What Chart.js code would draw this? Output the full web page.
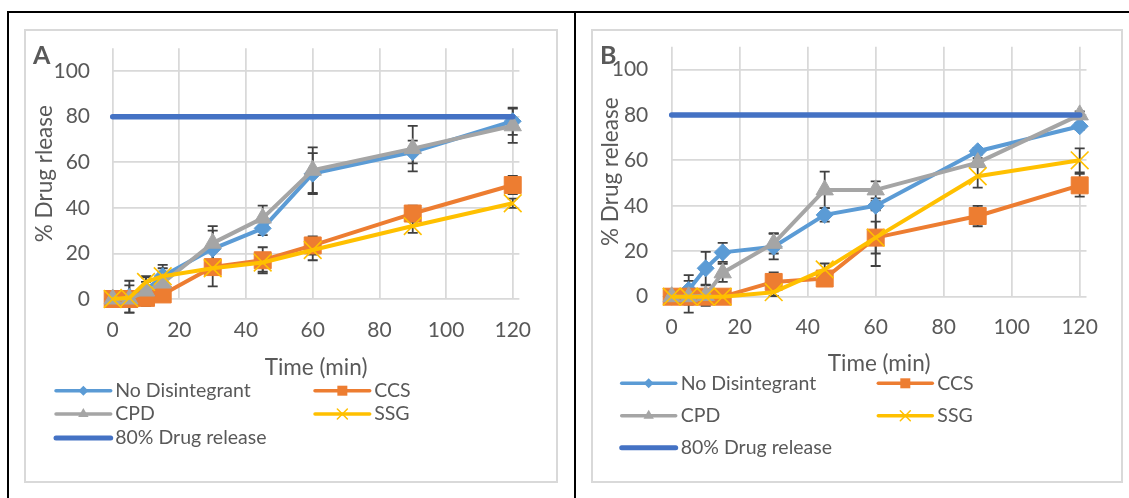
<!DOCTYPE html>
<html><head><meta charset="utf-8">
<script src="https://cdn.jsdelivr.net/npm/chart.js@4.4.0/dist/chart.umd.min.js"></script>
<style>
html,body{margin:0;padding:0;background:#fff;}
body{width:1129px;height:498px;position:relative;overflow:hidden;font-family:Lato,sans-serif;}
.bl{position:absolute;background:#000;}
.frame{position:absolute;border:2px solid #d9d9d9;box-sizing:border-box;}
canvas{position:absolute;}
.letter{position:absolute;font:bold 25px/1 Lato,sans-serif;color:#595959;}
</style></head><body>
<div class="bl" style="left:7px;top:11px;width:1122px;height:2px"></div>
<div class="bl" style="left:7px;top:11px;width:2px;height:487px"></div>
<div class="bl" style="left:574px;top:11px;width:2px;height:487px"></div>
<div class="frame" style="left:24px;top:29px;width:534px;height:454px"></div>
<div class="frame" style="left:591px;top:29px;width:532px;height:454px"></div>
<canvas id="cA" width="532" height="452" style="left:25px;top:30px"></canvas>
<canvas id="cB" width="530" height="452" style="left:592px;top:30px"></canvas>
<div class="letter" style="left:33px;top:42px">A</div>
<div class="letter" style="left:600px;top:42px">B</div>
<script>
// ---- data ----
const timeMin = [0, 5, 10, 15, 30, 45, 60, 90, 120];
const xTicks = [0, 20, 40, 60, 80, 100, 120];
const yTicks = [0, 20, 40, 60, 80, 100];
const seriesNames = ['No Disintegrant', 'CCS', 'CPD', 'SSG', '80% Drug release'];
const targetTime = [0, 120];
const targetRelease = [80, 80];

// Panel A
const A_noDis    = [0, 1, 4, 10, 22, 31, 55, 64.5, 78];
const A_noDisErr = [0, 7, 3.5, 5, 8, 3, 9, 5, 6];
const A_ccs      = [0, 0, 0.5, 2, 14, 17, 23.5, 37.5, 50];
const A_ccsErr   = [0, 0, 1, 2, 2, 5.7, 4, 3.5, 4];
const A_cpd      = [0, 0, 3.5, 7, 24.5, 35.5, 56.5, 66, 76];
const A_cpdErr   = [0, 6, 6.5, 6.5, 7.5, 5.5, 10, 10, 7.5];
const A_ssg      = [0, 0.5, 7.5, 10, 13.5, 16, 21.5, 32, 42];
const A_ssgErr   = [0, 2, 2, 2, 8, 4, 4.5, 3, 2];

// Panel B
const B_noDis    = [0, 3, 12.5, 19.5, 22, 36, 40, 64, 75];
const B_noDisErr = [0, 6.5, 7.2, 4.2, 5.6, 3, 2, 1.5, 1.5];
const B_ccs      = [0, 0, 0, 0, 6.5, 8, 26, 35.5, 49];
const B_ccsErr   = [0, 0, 0, 0, 4.2, 2, 7, 4.5, 5];
const B_cpd      = [0, 0, 0.5, 10.5, 23.5, 47, 47, 59, 80];
const B_cpdErr   = [0, 7, 4.5, 4, 4.5, 8, 3.7, 2, 1.5];
const B_ssg      = [0, 0, 0, 0, 2, 12, 26, 53, 60];
const B_ssgErr   = [0, 0, 0, 0, 1.7, 2.6, 12.5, 5, 5.3];

// ---- helpers ----
const TXT = '#595959';
const FONT = 'Lato';
const xy = (xs, ys) => xs.map((x, i) => ({x: x, y: ys[i]}));

function drawMarker(ctx, style, x, y, color) {
  ctx.save();
  ctx.fillStyle = color; ctx.strokeStyle = color;
  ctx.beginPath();
  if (style === 'rectRot') {
    const r = 5;
    ctx.moveTo(x - r, y); ctx.lineTo(x, y - r); ctx.lineTo(x + r, y); ctx.lineTo(x, y + r); ctx.closePath(); ctx.fill();
  } else if (style === 'rect') {
    const s = 5; ctx.rect(x - s, y - s, 2 * s, 2 * s); ctx.fill();
  } else if (style === 'triangle') {
    const r = 6;
    ctx.moveTo(x, y - r); ctx.lineTo(x + r * 0.866, y + r * 0.5); ctx.lineTo(x - r * 0.866, y + r * 0.5); ctx.closePath(); ctx.fill();
  } else if (style === 'crossRot') {
    const r = 5; ctx.lineWidth = 1.5;
    ctx.moveTo(x - r, y - r); ctx.lineTo(x + r, y + r); ctx.moveTo(x + r, y - r); ctx.lineTo(x - r, y + r); ctx.stroke();
  }
  ctx.restore();
}

const errorBarPlugin = {
  id: 'errorBars',
  beforeDatasetsDraw(chart, args, opts) {
    const ctx = chart.ctx, ys = chart.scales.y;
    ctx.save();
    ctx.strokeStyle = opts.color; ctx.lineWidth = opts.width;
    chart.data.datasets.forEach((ds, i) => {
      if (!ds.errors) return;
      const meta = chart.getDatasetMeta(i);
      meta.data.forEach((pt, j) => {
        const e = ds.errors[j];
        if (!e) return;
        const v = ds.data[j].y;
        const t = ys.getPixelForValue(v + e), b = ys.getPixelForValue(v - e);
        ctx.beginPath();
        ctx.moveTo(pt.x, t); ctx.lineTo(pt.x, b);
        ctx.moveTo(pt.x - opts.cap, t); ctx.lineTo(pt.x + opts.cap, t);
        ctx.moveTo(pt.x - opts.cap, b); ctx.lineTo(pt.x + opts.cap, b);
        ctx.stroke();
      });
    });
    ctx.restore();
  }
};

const legendPlugin = {
  id: 'excelLegend',
  afterDraw(chart, args, opts) {
    const ctx = chart.ctx;
    ctx.save();
    ctx.font = opts.fontSize + 'px ' + FONT;
    ctx.textBaseline = 'middle'; ctx.textAlign = 'left'; ctx.fillStyle = TXT;
    chart.data.datasets.forEach((ds, i) => {
      const slot = opts.slots[i];
      const x0 = opts.cols[slot[0]], y = opts.rows[slot[1]], x1 = x0 + opts.lineLen;
      ctx.strokeStyle = ds.borderColor; ctx.lineCap = 'round';
      ctx.lineWidth = ds.pointRadius ? 3.5 : 5;
      ctx.beginPath(); ctx.moveTo(x0, y); ctx.lineTo(x1, y); ctx.stroke();
      if (ds.pointRadius) drawMarker(ctx, ds.pointStyle, (x0 + x1) / 2, y, ds.borderColor);
      ctx.fillStyle = TXT;
      ctx.fillText(ds.label, x1 + opts.gap, y);
    });
    ctx.restore();
  }
};

function series(label, ys, errs, color, style, radius, order) {
  return {
    label: label, data: xy(timeMin, ys), errors: errs,
    borderColor: color, backgroundColor: color,
    pointBackgroundColor: color, pointBorderColor: color,
    pointStyle: style, pointRadius: radius, pointHoverRadius: radius,
    pointBorderWidth: style === 'crossRot' ? 1.6 : 1,
    borderWidth: 4, borderJoinStyle: 'round', tension: 0, clip: false, order: order
  };
}

function makeChart(id, cfg, d) {
  const datasets = [
    series(seriesNames[0], d.noDis, d.noDisErr, '#5B9BD5', 'rectRot', 8.5, 5),
    series(seriesNames[1], d.ccs, d.ccsErr, '#ED7D31', 'rect', 12, 4),
    series(seriesNames[2], d.cpd, d.cpdErr, '#A5A5A5', 'triangle', 10, 3),
    series(seriesNames[3], d.ssg, d.ssgErr, '#FFC000', 'crossRot', 12.5, 2),
    {label: seriesNames[4], data: xy(targetTime, targetRelease), borderColor: '#4472C4', backgroundColor: '#4472C4',
     borderWidth: 5.5, borderCapStyle: 'round', pointRadius: 0, pointHoverRadius: 0, clip: false, order: 1}
  ];
  const grid = {color: '#d9d9d9', lineWidth: 1.75, drawTicks: false};
  const noPad = s => { s.paddingTop = 0; s.paddingBottom = 0; s.paddingLeft = 0; s.paddingRight = 0; };
  return new Chart(document.getElementById(id), {
    type: 'line',
    data: {datasets: datasets},
    plugins: [errorBarPlugin, legendPlugin],
    options: {
      responsive: false, animation: false, devicePixelRatio: 1,
      layout: {padding: {left: 0, top: cfg.padTop, right: cfg.padRight, bottom: cfg.padBottom}},
      plugins: {
        legend: {display: false}, tooltip: {enabled: false},
        errorBars: {color: '#404040', width: 1.8, cap: 5},
        excelLegend: cfg.legend
      },
      scales: {
        x: {
          type: 'linear', min: 0, max: 122,
          afterBuildTicks: s => { s.ticks = xTicks.map(v => ({value: v})); },
          afterFit: s => { s.height = cfg.H; noPad(s); },
          ticks: {padding: cfg.xTickPad, color: TXT, font: {family: FONT, size: cfg.tickSize}, maxRotation: 0},
          grid: grid, border: {display: false},
          title: {display: true, text: 'Time (min)', color: TXT, font: {family: FONT, size: cfg.titleSize}, padding: 0}
        },
        y: {
          type: 'linear', min: 0, max: 110,
          afterBuildTicks: s => { s.ticks = yTicks.map(v => ({value: v})); },
          afterFit: s => { s.width = cfg.W; noPad(s); },
          ticks: {padding: cfg.yTickPad, color: TXT, font: {family: FONT, size: cfg.tickSize}},
          grid: grid, border: {display: false},
          title: {display: true, text: cfg.yTitle, color: TXT, font: {family: FONT, size: cfg.titleSize}, padding: {top: cfg.yTitlePad, bottom: 0}}
        }
      }
    }
  });
}

makeChart('cA', {
  yTitle: '% Drug rlease', W: 87.7, padTop: 18.3, padRight: 37.6, padBottom: 100.5, H: 82.5,
  yTitlePad: 6.2, yTickPad: 22.7, xTickPad: 18.4, tickSize: 21, titleSize: 22.5,
  legend: {cols: [31, 290], rows: [360.7, 384, 408], lineLen: 54.7, gap: 4.5, fontSize: 19.5,
           slots: [[0, 0], [1, 0], [0, 1], [1, 1], [0, 2]]}
}, {noDis: A_noDis, noDisErr: A_noDisErr, ccs: A_ccs, ccsErr: A_ccsErr, cpd: A_cpd, cpdErr: A_cpdErr, ssg: A_ssg, ssgErr: A_ssgErr});

makeChart('cB', {
  yTitle: '% Drug release', W: 79.7, padTop: 16.7, padRight: 35.5, padBottom: 104.5, H: 80.8,
  yTitlePad: 5.5, yTickPad: 23.4, xTickPad: 18.4, tickSize: 21, titleSize: 22.5,
  legend: {cols: [29.7, 286.3], rows: [353.3, 385.7, 417.7], lineLen: 54, gap: 5, fontSize: 19.5,
           slots: [[0, 0], [1, 0], [0, 1], [1, 1], [0, 2]]}
}, {noDis: B_noDis, noDisErr: B_noDisErr, ccs: B_ccs, ccsErr: B_ccsErr, cpd: B_cpd, cpdErr: B_cpdErr, ssg: B_ssg, ssgErr: B_ssgErr});
</script>
</body></html>
